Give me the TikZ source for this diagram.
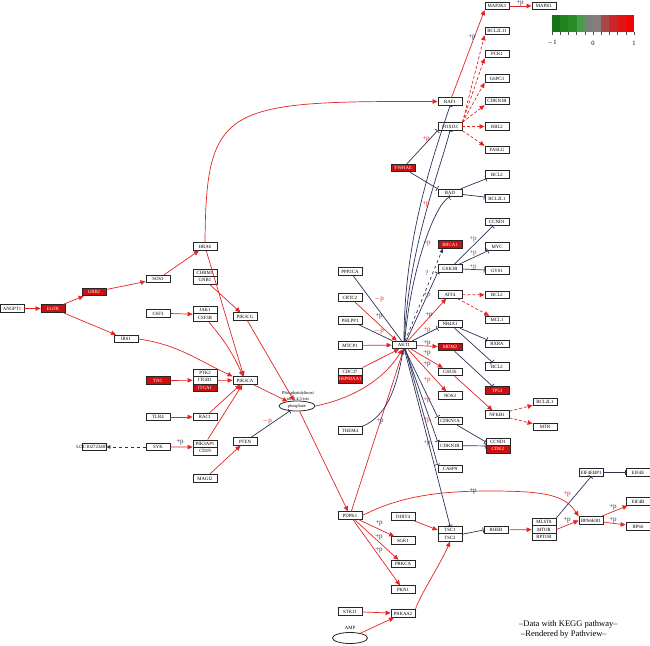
\documentclass[tikz,border=0pt]{standalone}
\usepackage{fontspec}
\setmainfont{Liberation Serif}
\usetikzlibrary{arrows.meta,calc,shapes.geometric}
\definecolor{kred}{RGB}{228,35,35}
\definecolor{kdark}{RGB}{45,50,92}
\definecolor{kfill}{RGB}{205,15,15}
\begin{document}
\begin{tikzpicture}[x=1pt,y=-1pt,
 gene/.style={draw=black!85,line width=0.9pt,fill=white,minimum width=24pt,minimum height=7.5pt,inner sep=0pt,font=\fontsize{4.8}{4.8}\selectfont},
 rgene/.style={gene,fill=kfill,text=white},
 act/.style={draw=kred,line width=0.7pt,-{Triangle[length=5pt,width=4.5pt]}},
 ind/.style={act,dash pattern=on 3pt off 2pt},
 inh/.style={draw=kdark,line width=0.7pt,-{Bar[width=5.5pt]}},
 plain/.style={draw=kdark,line width=0.7pt},
 lbl/.style={font=\fontsize{7}{7}\selectfont,inner sep=0pt},
 rl/.style={lbl,text=kred},
 dl/.style={lbl,text=kdark},
 ]
\useasboundingbox (0,0) rectangle (650,645);
% ---------- left part ----------
\node[gene] (ANGPT1) at (12,308.5) {ANGPT1};
\node[rgene] (EGFR) at (53,308.5) {EGFR};
\node[rgene] (GRB2) at (94,292) {GRB2};
\node[gene] (SOS1) at (158,279) {SOS1};
\node[gene] (HRAS) at (205,246.5) {HRAS};
\node[gene] (CHRM1) at (205,272.75) {CHRM1};
\node[gene] (GNB1) at (205,280.25) {GNB1};
\node[gene] (CSF3) at (158,313.5) {CSF3};
\node[gene] (JAK1) at (205,310) {JAK1};
\node[gene] (CSF3R) at (205,317.5) {CSF3R};
\node[gene] (IRS1) at (126,339) {IRS1};
\node[gene] (PIK3CG) at (245,316.5) {PIK3CG};
\node[gene] (PIK3CA) at (245,380.5) {PIK3CA};
\node[rgene] (TNC) at (158,380.5) {TNC};
\node[gene] (PTK2) at (205,372.75) {PTK2};
\node[gene] (ITGB1) at (205,380.25) {ITGB1};
\node[rgene] (ITGA1) at (205,387.75) {ITGA1};
\node[gene] (TLR4) at (158,417) {TLR4};
\node[gene] (RAC1) at (205,417) {RAC1};
\node[gene] (LOC) at (94,447) {};
\node[font=\fontsize{4.8}{4.8}\selectfont,inner sep=0pt] (LOCt) at (92,447) {LOC102723407};
\node[gene] (SYK) at (158,447) {SYK};
\node[gene] (PIK3AP1) at (205,443.75) {PIK3AP1};
\node[gene] (CD19) at (205,451.25) {CD19};
\node[gene] (PTEN) at (245,441.5) {PTEN};
\node[gene] (MAGI2) at (205,478.5) {MAGI2};
\node[draw=black!85,line width=0.8pt,ellipse,minimum width=36pt,minimum height=10pt,inner sep=0pt,font=\fontsize{4.4}{4.4}\selectfont] (PIP3) at (297,406) {phosphate};
\node[font=\fontsize{4.4}{4.4}\selectfont,inner sep=0pt] (PIP3a) at (298,393.5) {Phosphatidylinosi};
\node[font=\fontsize{4.4}{4.4}\selectfont,inner sep=0pt] (PIP3b) at (298,399.5) {tol-3,4,5-tris};
% ---------- middle ----------
\node[gene] (PPP2CA) at (350,271.5) {PPP2CA};
\node[gene] (CRTC2) at (350,297.5) {CRTC2};
\node[gene] (PHLPP1) at (350,320.5) {PHLPP1};
\node[gene] (MTCP1) at (350,345.5) {MTCP1};
\node[gene] (AKT1) at (404,345) {AKT1};
\node[gene] (CDC37) at (350,371.75) {CDC37};
\node[rgene] (HSP90AA1) at (350,379.25) {HSP90AA1};
\node[gene] (THEM4) at (350,430.5) {THEM4};
\node[rgene] (BRCA1) at (450,244.5) {BRCA1};
\node[gene] (GSK3B) at (450,268.5) {GSK3B};
\node[gene] (ATF4) at (450,294.5) {ATF4};
\node[gene] (NR4A1) at (450,324) {NR4A1};
\node[rgene] (MDM2) at (450,347) {MDM2};
\node[gene] (CHUK) at (450,372) {CHUK};
\node[gene] (NOS3) at (450,395.5) {NOS3};
\node[gene] (CDKN1A) at (450,421) {CDKN1A};
\node[gene] (CDKN1Bb) at (450,445.5) {CDKN1B};
\node[gene] (CASP9) at (450,469) {CASP9};
% ---------- upper right ----------
\node[gene] (MAP2K1) at (497,6) {MAP2K1};
\node[gene] (MAPK1) at (544,6) {MAPK1};
\node[gene] (BCL2L11) at (497,31) {BCL2L11};
\node[gene] (PCK1) at (497,54) {PCK1};
\node[gene] (G6PC3) at (497,78.5) {G6PC3};
\node[gene] (CDKN1Ba) at (497,101) {CDKN1B};
\node[gene] (RAF1) at (450,101.5) {RAF1};
\node[gene] (FOXO3) at (450,126.5) {FOXO3};
\node[gene] (RBL2) at (497,126.5) {RBL2};
\node[gene] (FASLG) at (497,150) {FASLG};
\node[rgene] (YWHAE) at (403,168) {YWHAE};
\node[gene] (BAD) at (450,193) {BAD};
\node[gene] (BCL2a) at (497,174.5) {BCL2};
\node[gene] (BCL2L1a) at (497,198.5) {BCL2L1};
\node[gene] (CCND1a) at (497,222) {CCND1};
\node[gene] (MYC) at (497,246.5) {MYC};
\node[gene] (GYS1) at (497,270.5) {GYS1};
\node[gene] (BCL2b) at (497,295) {BCL2};
\node[gene] (MCL1) at (497,320) {MCL1};
\node[gene] (RXRA) at (497,344) {RXRA};
\node[gene] (BCL2c) at (497,366.5) {BCL2};
\node[rgene] (TP53) at (497,390.5) {TP53};
\node[gene] (NFKB1) at (497,414.5) {NFKB1};
\node[gene] (BCL2L1b) at (545,402) {BCL2L1};
\node[gene] (MTR) at (545,427) {MTR};
\node[gene] (CCND1b) at (498,441.75) {CCND1};
\node[rgene] (CDK2) at (498,449.25) {CDK2};
% ---------- bottom ----------
\node[gene] (PDPK1) at (350,515.5) {PDPK1};
\node[gene] (DDIT4) at (403,516.5) {DDIT4};
\node[gene] (TSC1) at (450,530) {TSC1};
\node[gene] (TSC2) at (450,537.5) {TSC2};
\node[gene] (SGK1) at (403,540.5) {SGK1};
\node[gene] (PRKCA) at (403,564) {PRKCA};
\node[gene] (PKN1) at (403,589.5) {PKN1};
\node[gene] (STK11) at (350,611.5) {STK11};
\node[gene] (PRKAA2) at (403,613.5) {PRKAA2};
\node[draw=black!85,line width=0.8pt,ellipse,minimum width=35pt,minimum height=11pt,inner sep=0pt] (AMP) at (350,638) {};
\node[font=\fontsize{4.8}{4.8}\selectfont,inner sep=0pt] (AMPl) at (350,628) {AMP};
\node[gene] (RHEB) at (496,530) {RHEB};
\node[gene] (MLST8) at (544,522) {MLST8};
\node[gene] (MTOR) at (544,529.5) {MTOR};
\node[gene] (RPTOR) at (544,537) {RPTOR};
\node[gene] (RPS6KB1) at (591,520.5) {RPS6KB1};
\node[gene] (EIF4EBP1) at (591,472.5) {EIF4EBP1};
\node[gene] (EIF4E) at (638,472.5) {EIF4E};
\node[gene] (EIF4B) at (638,501.5) {EIF4B};
\node[gene] (RPS6) at (638,526.5) {RPS6};
% ---------- edges left ----------
\draw[act] (ANGPT1) -- (EGFR);
\draw[act] (EGFR) -- (GRB2);
\draw[act] (GRB2) -- (SOS1);
\draw[act] (SOS1) -- (HRAS);
\draw[act] (EGFR) -- (IRS1);
\draw[act] (CSF3.east) -- (JAK1.south west);
\draw[act] (TNC) -- (ITGB1);
\draw[act] (ITGB1) -- (PIK3CA);
\draw[act] (TLR4) -- (RAC1);
\draw[act] (SYK.east) -- (CD19.north west);
\node[dl] at (180,442) {+p};
\draw[plain,dashed,-{Triangle[length=4pt,width=3.5pt]}] (SYK) -- (LOC);
\draw[act] (HRAS) -- (PIK3CA);
\draw[act] (GNB1) -- (PIK3CG);
\draw[act] (CSF3R) to[bend left=8] (PIK3CA);
\draw[act] (IRS1.east) to[out=-8,in=155] (PIK3CA.north west);
\draw[act] (RAC1) -- (PIK3CA);
\draw[act] (PIK3AP1) -- (PIK3CA);
\draw[act] (MAGI2) -- (PTEN);
\draw[inh] (PTEN) -- (PIP3);
\node[rl] at (267,421) {$-$p};
\draw[act] (PIK3CA) -- (PIP3);
\draw[act] (PIK3CG) -- (PIP3);
\draw[act] (PIP3.east) .. controls (355,398) and (385,378) .. (AKT1.-110);
\draw[act] (PIP3) -- (PDPK1);
\draw[act] (PDPK1) -- (AKT1.-95);
\draw[act] (HRAS.north) .. controls (206,105) and (225,101) .. (RAF1.west);
% ---------- AKT1 inputs ----------
\draw[act] (MTCP1) -- (AKT1);
\draw[act] (CDC37.north east) -- (AKT1.-140);
\draw[act] (CRTC2) -- (AKT1.150);
\draw[plain] (PPP2CA) -- (AKT1.120);
\draw[plain] (PHLPP1) -- (AKT1.160);
\draw[plain] (THEM4.north east) .. controls (390,415) and (398,380) .. (AKT1.-100);
\node[rl] at (379,299) {$-$p};
\node[dl] at (379,316) {+p};
\node[rl] at (379,331) {$-$p};
\node[dl] at (380,421) {+p};
% ---------- AKT1 outputs ----------
\draw[act] (AKT1) -- (MDM2);
\draw[act] (AKT1) -- (CHUK);
\draw[act] (AKT1) -- (NOS3);
\draw[act] (AKT1) -- (ATF4);
\draw[inh] (AKT1) -- (NR4A1.south west);
\draw[inh] (AKT1.-80) -- (CDKN1A.north west);
\draw[inh] (AKT1.-75) -- (CDKN1Bb.north west);
\draw[inh] (AKT1.-70) -- (CASP9.north west);
\draw[inh] (AKT1.-85) -- (TSC1.north);
\draw[inh] (AKT1.60) -- (GSK3B.south west);
\draw[plain,dashed,-{Triangle[length=4pt,width=3.5pt]}] (AKT1.75) -- (BRCA1.-150);
\draw[inh] (AKT1.80) .. controls (412,260) and (438,200) .. (BAD.south);
\draw[inh] (AKT1.85) .. controls (408,250) and (440,170) .. (FOXO3.south);
\draw[inh] (AKT1.90) .. controls (404,240) and (432,160) .. (RAF1.south);
\node[rl] at (426,139) {+p};
\node[rl] at (426,204) {+p};
\node[rl] at (427,243) {+p};
\node[dl] at (427,273) {?};
\node[rl] at (427,295) {+p};
\node[dl] at (429,315) {+p};
\node[rl] at (427,330) {+p};
\node[dl] at (427,343) {+p};
\node[dl] at (427,353) {+p};
\node[dl] at (427,364) {+p};
\node[rl] at (427,380) {+p};
\node[rl] at (427,400) {+p};
\node[rl] at (427,420) {+p};
\node[rl] at (427,443) {+p};
% ---------- upper right ----------
\draw[act] (RAF1) -- (MAP2K1.south west);
\node[dl] at (472,37) {+p};
\draw[act] (MAP2K1) -- (MAPK1);
\node[dl] at (520,3) {+p};
\draw[ind] (FOXO3.north east) -- (BCL2L11.south west);
\draw[ind] (FOXO3.north east) -- (PCK1.south west);
\draw[ind] (FOXO3.north east) -- (G6PC3.south west);
\draw[ind] (FOXO3.north east) -- (CDKN1Ba.south west);
\draw[ind] (FOXO3) -- (RBL2);
\draw[ind] (FOXO3.south east) -- (FASLG.north west);
\draw[inh] (YWHAE) -- (FOXO3.south west);
\draw[inh] (YWHAE) -- (BAD.north west);
\draw[inh] (BAD) -- (BCL2a);
\draw[inh] (BAD) -- (BCL2L1a);
\draw[inh] (GSK3B) -- (CCND1a);
\draw[inh] (GSK3B) -- (MYC);
\draw[inh] (GSK3B) -- (GYS1);
\node[rl] at (473,239) {+p};
\node[rl] at (473,253) {+p};
\node[rl] at (473,267) {+p};
\draw[ind] (ATF4) -- (BCL2b);
\draw[ind] (ATF4) -- (MCL1);
\draw[inh] (NR4A1) -- (RXRA);
\draw[inh] (NR4A1) -- (BCL2c);
\draw[inh] (MDM2) -- (TP53);
\draw[act] (CHUK) -- (NFKB1);
\draw[ind] (NFKB1) -- (BCL2L1b);
\draw[ind] (NFKB1) -- (MTR);
\draw[inh] (CDKN1A) -- (CCND1b.west);
\draw[inh] (CDKN1Bb) -- (CCND1b.south west);
% ---------- bottom ----------
\draw[act] (PDPK1) -- (SGK1);
\draw[act] (PDPK1) -- (PRKCA);
\draw[act] (PDPK1) -- (PKN1);
\node[dl] at (379,523) {+p};
\node[dl] at (379,537) {+p};
\node[dl] at (379,550) {+p};
\draw[act] (PDPK1.east) .. controls (400,496) and (440,491) .. (490,491) .. controls (545,491) and (565,495) .. (RPS6KB1.north west);
\node[dl] at (473,491) {+p};
\node[rl] at (567,494) {+p};
\draw[act] (DDIT4) -- (TSC1.west);
\draw[act] (STK11) -- (PRKAA2);
\draw[act] (AMP) -- (PRKAA2);
\draw[act] (PRKAA2.north east) .. controls (420,595) and (440,565) .. (TSC2.south);
\draw[inh] (TSC1.south east) -- (RHEB.west);
\draw[act] (RHEB) -- (MTOR);
\draw[act] (MTOR.east) -- (RPS6KB1.west);
\node[dl] at (567,520) {+p};
\draw[inh] (MLST8.north east) -- (EIF4EBP1.south);
\draw[inh] (EIF4EBP1) -- (EIF4E);
\draw[act] (RPS6KB1) -- (EIF4B);
\draw[act] (RPS6KB1) -- (RPS6);
\node[dl] at (613,507) {+p};
\node[dl] at (613,520) {+p};
% ---------- legend ----------
\definecolor{c1}{RGB}{25,115,25}
\definecolor{c2}{RGB}{30,130,30}
\definecolor{c3}{RGB}{40,140,40}
\definecolor{c4}{RGB}{75,155,75}
\definecolor{c5}{RGB}{125,125,125}
\definecolor{c6}{RGB}{135,125,125}
\definecolor{c7}{RGB}{170,70,70}
\definecolor{c8}{RGB}{200,40,40}
\definecolor{c9}{RGB}{225,20,20}
\definecolor{c10}{RGB}{240,5,5}
\foreach \c [count=\i from 0] in {c1,c2,c3,c4,c5,c6,c7,c8,c9,c10}
  \fill[\c] ({552+\i*8.2},15) rectangle ({552+(\i+1)*8.2},32);
\foreach \i in {0,...,10}
  \draw[black!70,line width=0.4pt] ({552+\i*8.2},32) -- ({552+\i*8.2},35);
\node[font=\fontsize{6.5}{6.5}\selectfont,inner sep=0pt] (lm) at (552,43) {$-$1};
\node[font=\fontsize{6.5}{6.5}\selectfont,inner sep=0pt] (l0) at (593,43) {0};
\node[font=\fontsize{6.5}{6.5}\selectfont,inner sep=0pt] (lp) at (634,43) {1};
% ---------- footer ----------
\node[anchor=west,font=\fontsize{8.5}{8.5}\selectfont,inner sep=0pt] (f1) at (519,624) {–Data with KEGG pathway–};
\node[anchor=west,font=\fontsize{8.5}{8.5}\selectfont,inner sep=0pt] (f2) at (521,634) {–Rendered by Pathview–};
\end{tikzpicture}
\end{document}
